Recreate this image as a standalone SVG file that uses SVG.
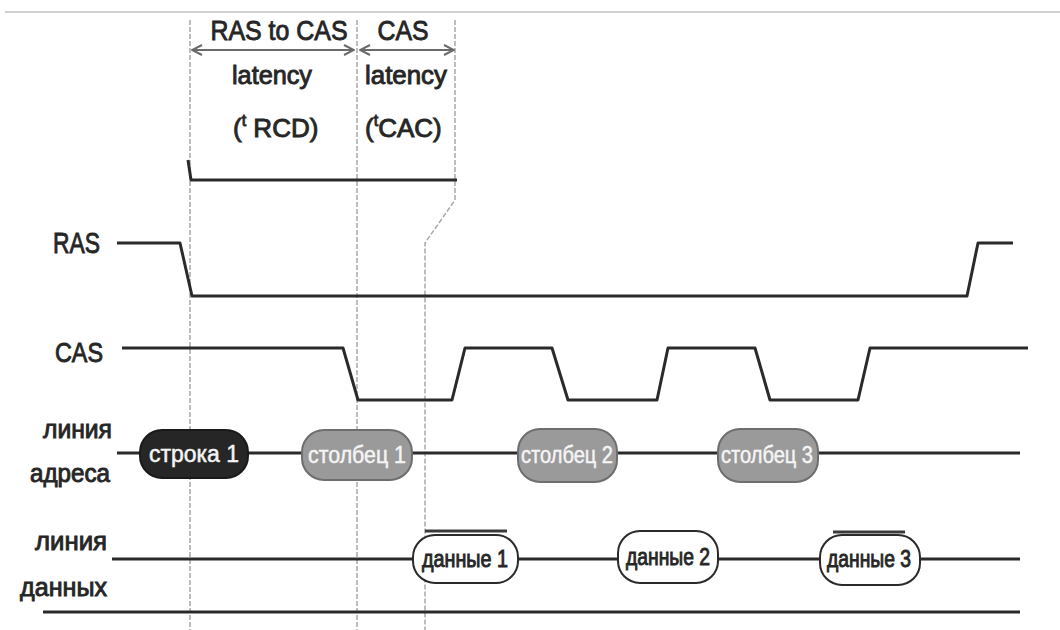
<svg xmlns="http://www.w3.org/2000/svg" width="1060" height="630" viewBox="0 0 1060 630">
<defs>
<style>
.t{font-family:"Liberation Sans",Arial,sans-serif;fill:#262626;stroke:#262626;stroke-width:0.9}
.w{font-family:"Liberation Sans",Arial,sans-serif;fill:#f4f4f4;stroke:#f4f4f4;stroke-width:0.5}
.sig{fill:none;stroke:#2a2a2a;stroke-width:3;stroke-linejoin:round}
.dash{fill:none;stroke:#a8a8a8;stroke-width:1.5;stroke-dasharray:5 2}
.arr{fill:none;stroke:#6a6a6a;stroke-width:2}
</style>
<marker id="ah" viewBox="0 0 12 12" refX="11" refY="6" markerWidth="12" markerHeight="12" markerUnits="userSpaceOnUse" orient="auto-start-reverse">
<path d="M1,1 L11,6 L1,11" fill="none" stroke="#6a6a6a" stroke-width="2"/>
</marker>
</defs>
<rect width="1060" height="630" fill="#ffffff"/>
<line x1="5" y1="12" x2="1060" y2="12" stroke="#d0d0d0" stroke-width="2"/>

<g id="guides">
<line class="dash" x1="190" y1="20" x2="190" y2="630"/>
<line class="dash" x1="357" y1="20" x2="357" y2="630"/>
<path class="dash" d="M455,20 L455,200 L425,243 L425,630"/>
</g>

<g id="connectors">
<line class="arr" x1="192" y1="50" x2="354" y2="50" marker-start="url(#ah)" marker-end="url(#ah)"/>
<line class="arr" x1="360" y1="50" x2="454" y2="50" marker-start="url(#ah)" marker-end="url(#ah)"/>
<path class="sig" d="M188,160 L191,180 L457,180"/>
</g>

<g id="timing-labels">
<text class="t" x="279" y="40" font-size="28" text-anchor="middle" textLength="137" lengthAdjust="spacingAndGlyphs">RAS to CAS</text>
<text class="t" x="403" y="40" font-size="28" text-anchor="middle" textLength="51" lengthAdjust="spacingAndGlyphs">CAS</text>
<text class="t" x="272" y="84" font-size="25" text-anchor="middle" textLength="80" lengthAdjust="spacingAndGlyphs">latency</text>
<text class="t" x="406" y="84" font-size="25" text-anchor="middle" textLength="82" lengthAdjust="spacingAndGlyphs">latency</text>
<text class="t" x="233" y="137" font-size="26">(<tspan font-size="16" dy="-11">t</tspan><tspan dy="11"> RCD)</tspan></text>
<text class="t" x="365" y="137" font-size="26">(<tspan font-size="16" dy="-11">t</tspan><tspan dy="11">CAC)</tspan></text>
</g>

<g id="RAS">
<text class="t" x="53" y="253" font-size="30" textLength="47" lengthAdjust="spacingAndGlyphs">RAS</text>
<path class="sig" d="M117,243 L180,243 L192,296 L967,296 L978,243 L1013,243"/>
</g>

<g id="CAS">
<text class="t" x="55" y="362" font-size="28" textLength="48" lengthAdjust="spacingAndGlyphs">CAS</text>
<path class="sig" d="M122,348 L343,348 L358,400 L452,400 L465,348 L552,348 L568,400 L657,400 L668,348 L755,348 L770,400 L858,400 L870,348 L1028,348"/>
</g>

<g id="address-line">
<text class="t" x="43" y="438" font-size="25" textLength="69" lengthAdjust="spacingAndGlyphs">линия</text>
<text class="t" x="30" y="482" font-size="25" textLength="80" lengthAdjust="spacingAndGlyphs">адреса</text>
<line class="sig" x1="117" y1="453" x2="1020" y2="453"/>
</g>

<g id="row1">
<rect x="140" y="430" width="108" height="48" rx="22" fill="#262626" stroke="#1a1a1a" stroke-width="2"/>
<text class="w" x="194" y="462" font-size="23" text-anchor="middle" textLength="90" lengthAdjust="spacingAndGlyphs">строка 1</text>
</g>
<g id="col1">
<rect x="302" y="430" width="110" height="50" rx="22" fill="#9a9a9a" stroke="#6e6e6e" stroke-width="2"/>
<text class="w" x="357" y="463" font-size="23" text-anchor="middle" textLength="98" lengthAdjust="spacingAndGlyphs">столбец 1</text>
</g>
<g id="col2">
<rect x="518" y="429" width="99" height="53" rx="22" fill="#9a9a9a" stroke="#6e6e6e" stroke-width="2"/>
<text class="w" x="567" y="463" font-size="23" text-anchor="middle" textLength="92" lengthAdjust="spacingAndGlyphs">столбец 2</text>
</g>
<g id="col3">
<rect x="718" y="429" width="100" height="53" rx="22" fill="#9a9a9a" stroke="#6e6e6e" stroke-width="2"/>
<text class="w" x="767" y="463" font-size="23" text-anchor="middle" textLength="92" lengthAdjust="spacingAndGlyphs">столбец 3</text>
</g>

<g id="data-line">
<text class="t" x="35" y="550" font-size="25" textLength="72" lengthAdjust="spacingAndGlyphs">линия</text>
<text class="t" x="20" y="596" font-size="25" textLength="87" lengthAdjust="spacingAndGlyphs">данных</text>
<line class="sig" x1="112" y1="559" x2="1020" y2="559"/>
<line class="sig" x1="43" y1="612" x2="1020" y2="612"/>
</g>

<g id="data1">
<line x1="425" y1="531" x2="507" y2="531" stroke="#3a3a3a" stroke-width="3"/>
<rect x="413" y="535" width="105" height="48" rx="22" fill="#ffffff" stroke="#2a2a2a" stroke-width="2"/>
<text class="t" x="465" y="567" font-size="23" text-anchor="middle" textLength="86" lengthAdjust="spacingAndGlyphs">данные 1</text>
</g>
<g id="data2">
<rect x="618" y="531" width="100" height="52" rx="22" fill="#ffffff" stroke="#2a2a2a" stroke-width="2"/>
<text class="t" x="668" y="565" font-size="23" text-anchor="middle" textLength="84" lengthAdjust="spacingAndGlyphs">данные 2</text>
</g>
<g id="data3">
<line x1="833" y1="532" x2="905" y2="532" stroke="#3a3a3a" stroke-width="3"/>
<rect x="820" y="535" width="100" height="50" rx="22" fill="#ffffff" stroke="#2a2a2a" stroke-width="2"/>
<text class="t" x="869" y="567" font-size="23" text-anchor="middle" textLength="84" lengthAdjust="spacingAndGlyphs">данные 3</text>
</g>
</svg>
